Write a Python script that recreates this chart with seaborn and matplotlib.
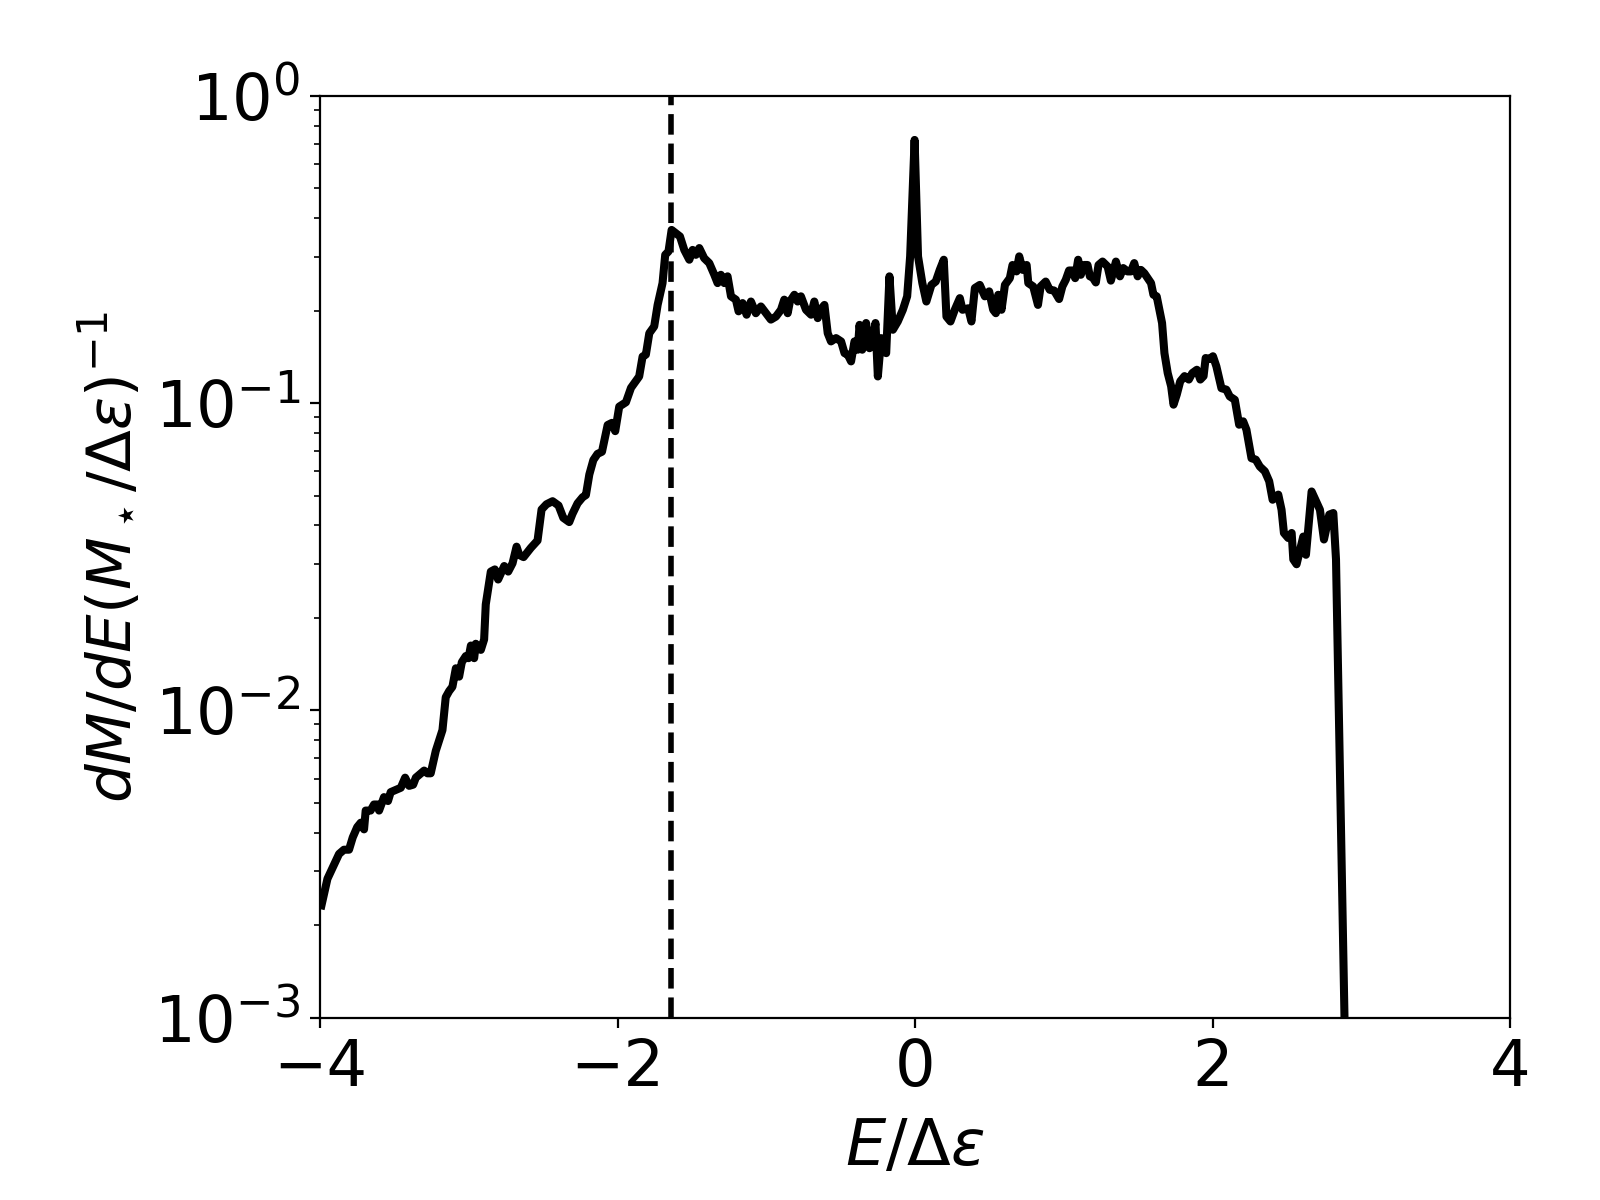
import numpy as np
import pandas as pd
import matplotlib
matplotlib.use("Agg")
import matplotlib.pyplot as plt
import seaborn as sns

# energy values E/Δε
energy = [
    -3.99, -3.95, -3.917, -3.872, -3.839, -3.805, -3.78, -3.75, -3.726, -3.704,
    -3.693, -3.66, -3.637, -3.614, -3.603, -3.57, -3.543, -3.525, -3.457, -3.428,
    -3.401, -3.374, -3.356, -3.30, -3.278, -3.256, -3.222, -3.177, -3.155, -3.132,
    -3.11, -3.087, -3.065, -3.047, -3.02, -3.002, -2.986, -2.964, -2.953, -2.919,
    -2.897, -2.886, -2.852, -2.825, -2.803, -2.762, -2.735, -2.706, -2.679, -2.661,
    -2.632, -2.583, -2.538, -2.511, -2.478, -2.437, -2.397, -2.365, -2.325, -2.303,
    -2.269, -2.235, -2.213, -2.19, -2.163, -2.135, -2.105, -2.067, -2.038, -2.016,
    -1.989, -1.944, -1.91, -1.855, -1.832, -1.810, -1.787, -1.754, -1.731, -1.698,
    -1.680, -1.658, -1.637, -1.608, -1.581, -1.552, -1.518, -1.496, -1.474, -1.451,
    -1.418, -1.384, -1.350, -1.328, -1.306, -1.283, -1.261, -1.238, -1.205, -1.187,
    -1.160, -1.133, -1.104, -1.071, -1.037, -1.003, -0.970, -0.936, -0.902, -0.880,
    -0.857, -0.842, -0.812, -0.790, -0.768, -0.734, -0.700, -0.678, -0.655, -0.637,
    -0.610, -0.588, -0.566, -0.532, -0.498, -0.475, -0.453, -0.431, -0.408, -0.386,
    -0.374, -0.356, -0.330, -0.307, -0.285, -0.267, -0.251, -0.229, -0.195, -0.173,
    -0.150, -0.117, -0.083, -0.054, -0.034, -0.004, 0.019, 0.048, 0.075, 0.109,
    0.138, 0.165, 0.192, 0.210, 0.237, 0.266, 0.300, 0.318, 0.356, 0.378,
    0.401, 0.434, 0.468, 0.497, 0.524, 0.542, 0.558, 0.580, 0.603, 0.636,
    0.654, 0.681, 0.699, 0.722, 0.749, 0.760, 0.793, 0.825, 0.843, 0.877,
    0.904, 0.933, 0.967, 0.989, 1.012, 1.034, 1.057, 1.075, 1.095, 1.113,
    1.135, 1.158, 1.174, 1.192, 1.214, 1.232, 1.259, 1.293, 1.315, 1.349,
    1.376, 1.398, 1.427, 1.450, 1.472, 1.495, 1.517, 1.540, 1.562, 1.585,
    1.601, 1.623, 1.641, 1.659, 1.675, 1.697, 1.720, 1.736, 1.758, 1.781,
    1.810, 1.839, 1.862, 1.893, 1.916, 1.938, 1.952, 1.979, 2.001, 2.024,
    2.058, 2.091, 2.114, 2.148, 2.177, 2.204, 2.226, 2.260, 2.289, 2.316,
    2.350, 2.379, 2.402, 2.440, 2.462, 2.478, 2.507, 2.530, 2.541, 2.563,
    2.586, 2.608, 2.626, 2.664, 2.720, 2.747, 2.783, 2.810, 2.828, 2.905,
]

# dM/dE values
mass_density = [
    0.00232, 0.00283, 0.00306, 0.00341, 0.00352, 0.00352, 0.00386, 0.00417, 0.00431, 0.00410,
    0.00472, 0.00472, 0.00494, 0.00494, 0.00472, 0.00522, 0.00507, 0.00542, 0.00560, 0.00604,
    0.00568, 0.00573, 0.00604, 0.00637, 0.00624, 0.00624, 0.00738, 0.00863, 0.01104, 0.01156,
    0.01194, 0.01371, 0.01288, 0.01435, 0.01503, 0.01479, 0.01626, 0.01479, 0.01648, 0.01574,
    0.01702, 0.02213, 0.02831, 0.02877, 0.02667, 0.02951, 0.02831, 0.03013, 0.03412, 0.03206,
    0.03155, 0.03381, 0.03573, 0.04508, 0.04688, 0.04797, 0.04645, 0.04236, 0.04102, 0.04365,
    0.04721, 0.04943, 0.05023, 0.05861, 0.06531, 0.06839, 0.06950, 0.08492, 0.08630, 0.08110,
    0.09750, 0.1007, 0.1122, 0.1222, 0.1419, 0.1439, 0.1690, 0.1778, 0.2089, 0.2460,
    0.3041, 0.3119, 0.3664, 0.3573, 0.3491, 0.3155, 0.2931, 0.3155, 0.3041, 0.3199,
    0.2965, 0.2858, 0.2618, 0.2460, 0.2618, 0.2460, 0.2588, 0.2228, 0.2173, 0.1991,
    0.2118, 0.1941, 0.2143, 0.1963, 0.2065, 0.1963, 0.1871, 0.1914, 0.2014, 0.2173,
    0.1963, 0.2143, 0.2254, 0.2143, 0.2228, 0.2014, 0.1941, 0.2143, 0.1892, 0.2014,
    0.2089, 0.1690, 0.1589, 0.1629, 0.1589, 0.1455, 0.1439, 0.1368, 0.1589, 0.1493,
    0.1799, 0.1493, 0.1824, 0.1510, 0.1611, 0.1824, 0.1222, 0.1629, 0.1455, 0.2588,
    0.1734, 0.1845, 0.2014, 0.2228, 0.3006, 0.7194, 0.3006, 0.2460, 0.2143, 0.2427,
    0.2489, 0.2716, 0.2931, 0.1914, 0.1845, 0.2014, 0.2198, 0.2014, 0.2037, 0.1845,
    0.2371, 0.2427, 0.2228, 0.2312, 0.2014, 0.1963, 0.2254, 0.2014, 0.2427, 0.2553,
    0.2818, 0.2685, 0.3006, 0.2716, 0.2818, 0.2460, 0.2399, 0.2089, 0.2399, 0.2489,
    0.2339, 0.2328, 0.2183, 0.2399, 0.2523, 0.2704, 0.2704, 0.2553, 0.2931, 0.2618,
    0.2818, 0.2818, 0.2588, 0.2570, 0.2472, 0.2818, 0.2891, 0.2786, 0.2506, 0.2891,
    0.2588, 0.2754, 0.2685, 0.2685, 0.2858, 0.2588, 0.2716, 0.2649, 0.2553, 0.2460,
    0.2254, 0.2228, 0.2014, 0.1824, 0.1455, 0.1253, 0.1135, 0.0989, 0.1067, 0.1178,
    0.1225, 0.1194, 0.1253, 0.1285, 0.1194, 0.1225, 0.1403, 0.1393, 0.1422, 0.1318,
    0.1119, 0.1107, 0.1052, 0.1026, 0.0851, 0.0873, 0.0820, 0.0662, 0.0655, 0.0622,
    0.0600, 0.0557, 0.0485, 0.0504, 0.0450, 0.0378, 0.0364, 0.0378, 0.0310, 0.0299,
    0.0333, 0.0368, 0.0321, 0.0516, 0.0450, 0.0360, 0.0434, 0.0439, 0.0310, 0.0003,
]

marker_energy = -1.64

x_ticks = [-4, -2, 0, 2, 4]

df = pd.DataFrame({"E": energy, "dMdE": mass_density})

plt.rcParams["mathtext.fontset"] = "dejavusans"

fig = plt.figure(figsize=(8, 6), dpi=200)
ax = fig.add_subplot(111)
fig.subplots_adjust(left=0.2, right=0.944, top=0.92, bottom=0.152)

sns.lineplot(data=df, x="E", y="dMdE", color="black", linewidth=2.9,
             estimator=None, sort=False, ax=ax)
ax.axvline(marker_energy, color="black", linestyle="--", linewidth=2)

ax.set_yscale("log")
ax.set_xlim(-4, 4)
ax.set_ylim(1e-3, 1e0)
ax.set_xticks(x_ticks)
ax.tick_params(axis="both", which="major", labelsize=23)
ax.set_xlabel(r"$E/\Delta\varepsilon$", fontsize=23, labelpad=6)
ax.set_ylabel(r"$dM/dE(M_\star/\Delta\varepsilon)^{-1}$", fontsize=22, labelpad=4)

fig.savefig("out.png", dpi=200)
